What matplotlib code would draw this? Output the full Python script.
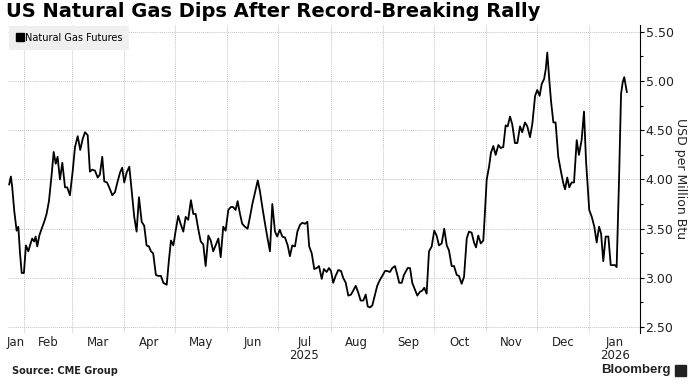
import matplotlib
matplotlib.use("Agg")
import matplotlib.pyplot as plt
from matplotlib.lines import Line2D
from matplotlib.patches import Rectangle
from matplotlib.ticker import MultipleLocator, FormatStrFormatter
import pandas as pd

# values: day offset from 2025-01-01, and price in USD / MMBtu
start = pd.Timestamp("2025-01-01")
days = [
    22.1, 23.1, 23.9, 25.1, 26.5, 27.5, 28.5, 29.5, 30.8, 32.0,
    33.4, 34.4, 35.7, 36.9, 37.7, 38.7, 39.9, 41.3, 42.8, 44.2,
    45.6, 47.2, 48.4, 49.6, 50.7, 52.1, 53.5, 55.1, 56.4, 58.0,
    59.6, 61.0, 62.6, 64.1, 65.5, 66.9,
    68.5, 69.8, 71.2, 72.8, 74.4, 75.7, 77.1, 78.3, 79.9, 81.7,
    83.0, 84.6, 86.2, 87.6, 88.9, 90.1, 91.5, 93.1, 94.5, 96.0,
    97.4, 98.8, 100.4, 101.9, 103.3, 104.7, 105.9, 107.2, 108.8, 110.2,
    111.8, 113.2, 115.2,
    116.5, 117.7, 119.1, 120.5, 122.0, 123.4, 125.0, 126.4, 127.9, 129.5,
    130.9, 132.3, 133.8, 135.3, 136.8, 138.2, 139.8, 141.2, 142.7, 144.1,
    145.7, 147.1, 148.6, 150.0, 151.6, 153.0, 154.5, 155.9, 157.1, 158.5,
    159.8, 161.4,
    163.0, 164.4, 165.8, 167.4, 169.0, 170.3, 171.7, 173.3, 174.6, 176.2,
    177.6, 179.2, 180.5, 182.0, 183.5, 185.1, 186.7, 188.0, 189.4, 191.0,
    192.4, 194.0, 195.3, 196.9, 198.3, 199.4, 200.9, 202.4, 203.8, 205.2,
    206.8, 208.1,
    209.7, 211.1, 212.3, 213.6, 215.0, 216.6, 218.2, 219.5, 221.0, 222.5,
    224.1, 225.4, 226.9, 228.4, 229.8, 231.4, 232.8, 234.0, 235.3, 236.7,
    238.3, 239.6, 241.2, 242.6, 244.2, 245.5, 247.1, 248.5, 250.1, 251.5,
    252.6, 254.1, 255.4,
    257.6, 259.0, 260.3, 261.9, 263.3, 264.9, 266.2, 267.4, 268.8, 270.2,
    271.8, 273.3, 274.7, 276.1, 277.7, 279.2, 280.7, 282.0, 283.6, 285.0,
    286.6, 287.9, 289.5, 290.9, 292.5, 293.8, 295.4, 296.8, 298.0, 299.3,
    300.8, 302.3, 303.3,
    304.3, 305.7, 306.8, 308.2, 309.6, 311.2, 312.6, 314.1, 315.5, 316.7,
    318.1, 319.4, 321.0, 322.4, 324.0, 325.3, 326.9, 328.3, 329.9, 331.3,
    332.9, 334.2, 335.6, 336.8, 338.2, 339.2, 340.1, 341.3, 342.3, 343.7,
    345.0, 346.6, 348.2, 349.6, 350.6,
    351.9, 353.1, 354.5, 355.9, 357.5, 358.8, 360.4, 361.8, 363.0, 364.0,
    364.9, 366.4, 367.9, 369.3, 370.7, 371.9, 373.2, 374.6, 376.2, 377.6,
    378.8, 380.1, 381.1, 382.5, 383.7, 384.7, 385.6, 387.1,
]
prices = [
    3.95, 4.03, 3.92, 3.68, 3.48, 3.52, 3.25, 3.05, 3.05, 3.33,
    3.27, 3.33, 3.40, 3.37, 3.42, 3.32, 3.43, 3.50, 3.57, 3.65,
    3.78, 4.05, 4.28, 4.16, 4.23, 4.00, 4.17, 3.92, 3.92, 3.84,
    4.08, 4.33, 4.44, 4.30, 4.41, 4.48,
    4.45, 4.08, 4.10, 4.09, 4.02, 4.05, 4.23, 3.98, 3.97, 3.90,
    3.84, 3.87, 3.98, 4.07, 4.12, 3.97, 4.07, 4.13, 3.88, 3.62,
    3.47, 3.82, 3.57, 3.53, 3.33, 3.32, 3.27, 3.25, 3.03, 3.02,
    3.02, 2.95, 2.93,
    3.18, 3.38, 3.33, 3.48, 3.63, 3.55, 3.47, 3.62, 3.59, 3.79,
    3.65, 3.65, 3.50, 3.37, 3.34, 3.12, 3.43, 3.38, 3.27, 3.33,
    3.40, 3.21, 3.52, 3.48, 3.69, 3.72, 3.72, 3.69, 3.78, 3.65,
    3.55, 3.52,
    3.50, 3.62, 3.75, 3.87, 3.99, 3.88, 3.72, 3.55, 3.42, 3.27,
    3.75, 3.47, 3.42, 3.49, 3.42, 3.41, 3.33, 3.22, 3.33, 3.32,
    3.47, 3.54, 3.56, 3.55, 3.57, 3.32, 3.25, 3.09, 3.10, 3.12,
    2.99, 3.09,
    3.06, 3.10, 3.07, 2.95, 3.02, 3.08, 3.07, 3.00, 2.95, 2.82,
    2.83, 2.87, 2.92, 2.85, 2.77, 2.77, 2.83, 2.71, 2.70, 2.72,
    2.83, 2.92, 2.98, 3.02, 3.07, 3.07, 3.06, 3.10, 3.12, 3.03,
    2.95, 2.95, 3.03,
    3.10, 3.10, 2.95, 2.88, 2.82, 2.86, 2.87, 2.90, 2.84, 3.27,
    3.32, 3.48, 3.43, 3.33, 3.35, 3.50, 3.33, 3.28, 3.12, 3.12,
    3.03, 3.02, 2.94, 3.01, 3.40, 3.47, 3.46, 3.36, 3.31, 3.43,
    3.35, 3.38, 3.68,
    4.00, 4.13, 4.27, 4.34, 4.25, 4.35, 4.32, 4.33, 4.55, 4.54,
    4.64, 4.56, 4.37, 4.37, 4.54, 4.48, 4.58, 4.54, 4.43, 4.57,
    4.85, 4.91, 4.85, 4.97, 5.02, 5.12, 5.29, 5.01, 4.80, 4.58,
    4.58, 4.23, 4.08, 3.96, 3.90,
    4.02, 3.92, 3.97, 3.97, 4.40, 4.25, 4.40, 4.69, 4.19, 3.92,
    3.69, 3.62, 3.52, 3.36, 3.52, 3.45, 3.17, 3.42, 3.42, 3.13,
    3.13, 3.13, 3.11, 3.99, 4.87, 4.99, 5.04, 4.89,
]
series_name = "Natural Gas Futures"
y_ticks = [2.5, 3.0, 3.5, 4.0, 4.5, 5.0, 5.5]
month_labels = ["Jan", "Feb", "Mar", "Apr", "May", "Jun", "Jul\n2025",
                "Aug", "Sep", "Oct", "Nov", "Dec", "Jan\n2026"]
title = "US Natural Gas Dips After Record-Breaking Rally"
source = "Source: CME Group"

dates = start + pd.to_timedelta(days, unit="D")
x_lo = start + pd.Timedelta(days=21.4)
x_hi = start + pd.Timedelta(days=394.9)
text_col = "#222222"

fig = plt.figure(figsize=(6.96, 3.84), dpi=100)
ax = fig.add_axes([8 / 696, 51 / 384, 632 / 696, 308 / 384])
ax.plot(dates, prices, color="black", lw=1.3, zorder=3)

ax.set_xlim(x_lo, x_hi)
ax.set_ylim(2.44, 5.57)

# y axis on the right
ax.yaxis.tick_right()
ax.yaxis.set_label_position("right")
ax.set_yticks(y_ticks)
ax.yaxis.set_major_formatter(FormatStrFormatter("%.2f"))
ax.yaxis.set_minor_locator(MultipleLocator(0.25))
ax.tick_params(axis="y", which="major", length=3, width=0.8, pad=1,
               labelsize=9, labelcolor=text_col)
ax.tick_params(axis="y", which="minor", length=2, width=0.8)
ax.set_ylabel("USD per Million Btu", rotation=-90, labelpad=10,
              fontsize=9, color=text_col)
for s in ["top", "left", "bottom"]:
    ax.spines[s].set_visible(False)
ax.spines["right"].set_linewidth(0.8)

# month boundaries -> gridlines, month names centred in each month
months = list(pd.date_range("2025-02-01", "2026-01-01", freq="MS"))
ax.set_xticks(months)
ax.set_xticklabels([])
bounds = [x_lo] + months + [x_hi]
centers = [bounds[i] + (bounds[i + 1] - bounds[i]) / 2 for i in range(len(bounds) - 1)]
ax.set_xticks(centers, month_labels, minor=True)
ax.tick_params(axis="x", which="both", length=0, labelsize=8.5,
               labelcolor=text_col, pad=2)
for lab in ax.get_xticklabels(minor=True):
    lab.set_verticalalignment("top")
    lab.set_multialignment("center")
    lab.set_linespacing(1.0)

ax.grid(True, which="major", color="#c4c4c4", linestyle=(0, (1, 1)), lw=0.7)

# legend
handle = Line2D([], [], marker="s", color="black", ls="none", markersize=5.5)
leg = ax.legend([handle], [series_name], loc="upper left", bbox_to_anchor=(0.0, 1.0),
                borderaxespad=0.1, frameon=True, facecolor="#efefef", edgecolor="none",
                fancybox=False, framealpha=1, fontsize=7, handletextpad=0.1,
                handlelength=0.8, borderpad=0.7)

fig.text(6 / 696, 1 - 2 / 384, title, ha="left", va="top",
         fontsize=14, fontweight="bold", color="black")
fig.text(12 / 696, 1 - 371 / 384, source, ha="left", va="center",
         fontsize=7, fontweight="bold", color=text_col)
fig.text(671 / 696, 1 - 370 / 384, "Bloomberg", ha="right", va="center",
         fontsize=9.5, fontweight="bold", color=text_col, family="Liberation Sans")
fig.add_artist(Rectangle((675 / 696, 1 - 376 / 384), 11 / 696, 11 / 384,
                         transform=fig.transFigure, color=text_col))

fig.savefig("out.png", dpi=100)
